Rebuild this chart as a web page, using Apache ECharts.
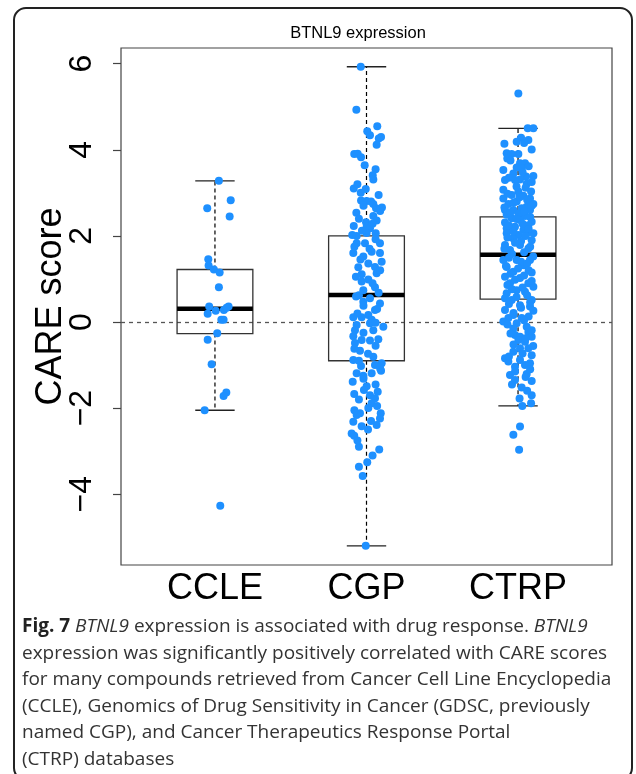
<!DOCTYPE html>
<html>
<head>
<meta charset="utf-8">
<script src="https://cdn.jsdelivr.net/npm/echarts@6/dist/echarts.min.js"></script>
<style>
  html, body { margin: 0; padding: 0; background: #fff; }
  #main { width: 636px; height: 774px; }
</style>
</head>
<body>
<div id="main"></div>
<script>
// groups and box statistics
var groups = ['CCLE', 'CGP', 'CTRP'];
var whiskerLow = [-2.05, -5.20, -1.95];
var quartile1 = [-0.27, -0.90, 0.53];
var medians = [0.31, 0.63, 1.56];
var quartile3 = [1.22, 2.00, 2.44];
var whiskerHigh = [3.28, 5.93, 4.50];
var yTicks = [-4, -2, 0, 2, 4, 6];

// points: CARE score and horizontal jitter (axis units) per group
var ccleValues = [3.28, 2.83, 2.64, 2.45, 1.46, 1.31, 1.22, 1.15, 0.81, 0.36, 0.36, 0.26, 0.28, 0.33,
  0.19, 0.05, 0.05, -0.26, -0.41, -0.98, -1.64, -1.72, -2.05, -4.27];
var ccleJitter = [0.026, 0.104, -0.051, 0.097, -0.044, -0.042, -0.007, 0.031, 0.026, -0.038, 0.09, 0.005, 0.059, 0.077,
  -0.048, 0.042, 0.057, 0.015, -0.048, -0.022, 0.075, 0.057, -0.068, 0.035];

var cgpValues = [5.93, 4.93, 4.55, 4.43, 4.34, 4.30, 4.26, 4.12, 3.90, 3.91, 3.83, 3.64, 3.41, 3.31, 3.10, 3.09,
  3.00, 2.82, 2.81, 2.80, 2.74, 2.66, 2.64, 2.54, 2.46, 2.36, 2.32, 2.23, 2.21, 2.18, 2.06, 2.02, 2.00,
  2.07, 1.83, 1.83, 1.83, 1.60, 1.63, 1.60, 1.52, 1.36, 1.40, 1.27, 1.28, 1.11, 1.13, 0.99, 0.94, 0.81,
  0.74, 0.59, 0.55, 0.47, 0.43, 0.28, 0.16, 0.11, 0.11, 0.05, -0.07, -0.03, -0.11, -0.19, -0.19, -0.33,
  -0.42, -0.43, -0.40, -0.49, -0.67, -0.81, -0.88, -0.96, -1.02, -1.00, -1.19, -1.25, -1.19, -1.13, -1.39,
  -1.49, -1.58, -1.62, -1.67, -1.70, -1.77, -1.89, -2.00, -2.16, -2.12, -2.12, -2.24, -2.32, -2.42, -2.39,
  -2.59, -2.64, -2.90, -2.96, -3.26, -3.36, -3.58, -5.20,
  3.55, 3.20, 2.95, 2.70, 2.58, 2.40, 2.28, 2.12, 1.92, 1.75, 1.70, 1.45, 1.20, 1.05, 0.90, 0.68, 0.62, 0.38,
  0.30, 0.20, -0.02, -0.25, -0.55, -0.62, -0.74, -0.90, -1.08, -1.32, -1.45, -1.80, -1.95, -2.05, -2.30,
  -2.50, -2.75, -3.10];
var cgpJitter = [-0.038, -0.067, 0.071, 0.005, 0.023, 0.096, 0.081, 0.067, -0.081, -0.058, -0.036, -0.012, 0.041, 0.045, -0.084, -0.005,
  -0.038, -0.036, 0.001, 0.030, 0.045, 0.102, 0.063, -0.067, 0.045, 0.067, -0.003, -0.084, 0.001, 0.023, 0.061, -0.094, -0.065,
  0.001, -0.065, -0.010, 0.089, -0.087, 0.034, 0.089, -0.021, 0.012, 0.100, -0.054, 0.056, -0.032, 0.067, 0.012, -0.032, 0.056,
  -0.021, -0.069, 0.023, -0.021, 0.089, 0.056, 0.012, -0.087, -0.032, 0.034, -0.065, 0.023, 0.111, -0.076, 0.045, -0.087,
  -0.032, 0.023, 0.078, -0.076, -0.043, 0.045, -0.087, 0.100, -0.036, 0.056, -0.065, -0.021, 0.034, 0.096, -0.091,
  0.001, -0.017, 0.074, -0.081, 0.023, 0.056, 0.034, 0.012, -0.065, -0.043, 0.094, 0.089, -0.087, -0.032, 0.067,
  -0.098, -0.081, -0.050, 0.084, 0.005, -0.050, -0.025, -0.005,
  0.06, -0.06, 0.08, -0.02, 0.09, -0.05, 0.04, -0.03, 0.06, -0.08, 0.02, -0.04, 0.09, -0.07, 0.04, 0.08, -0.05, -0.02,
  0.07, -0.06, 0.06, -0.02, 0.06, -0.08, 0.01, -0.05, 0.09, -0.02, 0.06, -0.05, 0.07, -0.08, 0.03,
  0.01, -0.06, 0.04];

var ctrpValues = [5.31, 4.50, 4.50, 4.28, 4.23, 4.19, 4.16, 4.14, 4.01, 3.92, 3.90, 3.90, 3.80, 3.69, 3.69, 3.59,
  3.57, 3.53, 3.45, 3.39, 3.38, 3.31, 3.30, 3.30, 3.21, 3.07, 3.03, 3.03, 2.95, 2.93, 2.87, 2.87, 2.80, 2.74,
  2.74, 2.68, 2.64, 2.60, 2.60, 2.60, 2.52, 2.49, 2.46, 2.41, 2.37, 2.33, 2.31, 2.25, 2.21, 2.18, 2.14, 2.06,
  2.02, 2.06, 2.06, 1.94, 1.90, 1.79, 1.79, 1.71, 1.67, 1.44, 1.44, 1.44, 1.28, 1.32, 1.17, 1.15, 1.05, 1.02,
  0.90, 0.90, 0.82, 0.74, 0.67, 0.70, 0.55, 0.51, 0.51, 0.39, 0.28, 0.36, 0.26, 0.16, 0.09, 0.01, 0.09, -0.03,
  -0.11, -0.15, -0.23, -0.30, -0.34, -0.34, -0.42, -0.46, -0.61, -0.61, -0.69, -0.77, -0.84, -0.88, -0.92,
  -0.96, -1.04, -1.00, -1.23, -1.21, -1.35, -1.37, -1.52, -1.70, -1.89, -1.95, -2.43, -2.62, -2.97,
  3.75, 3.62, 3.48, 3.35, 3.25, 3.15, 3.12, 2.98, 2.90, 2.84, 2.77, 2.70, 2.66, 2.57, 2.55, 2.44, 2.39, 2.28,
  2.24, 2.16, 2.10, 2.00, 1.96, 1.88, 1.84, 1.75, 1.70, 1.62, 1.58, 1.52, 1.49, 1.40, 1.36, 1.30, 1.24, 1.20,
  1.12, 1.08, 0.98, 0.95, 0.86, 0.80, 0.76, 0.62, 0.58, 0.46, 0.42, 0.33, 0.21, 0.13, 0.04, -0.06, -0.19,
  -0.27, -0.38, -0.52, -0.56, -0.73, -0.80, -1.10, -1.15, -1.28, -1.45, -1.60, -1.78];
var ctrpJitter = [0.002, 0.064, 0.101, 0.020, 0.068, -0.009, 0.040, -0.090, 0.090, -0.075, -0.042, 0.002, -0.071, 0.013, 0.046, -0.009,
  0.024, -0.097, -0.031, 0.101, 0.053, 0.013, -0.086, -0.020, 0.057, -0.097, 0.002, 0.086, -0.042, 0.035, -0.097, 0.079, -0.009, -0.064,
  0.101, 0.057, 0.024, -0.086, -0.031, 0.079, 0.002, -0.075, 0.046, -0.042, 0.013, 0.090, -0.086, 0.068, -0.020, -0.075, 0.035, 0.101,
  0.002, -0.075, 0.057, -0.031, 0.090, -0.086, 0.013, 0.068, -0.053, -0.097, -0.009, 0.079, -0.075, 0.035, -0.031, 0.090, -0.086, 0.013,
  -0.053, 0.068, 0.101, -0.009, -0.075, 0.046, -0.086, 0.090, -0.042, 0.013, -0.086, 0.079, 0.101, -0.031, -0.064, -0.097, 0.024, -0.009,
  0.057, -0.031, 0.068, -0.020, 0.013, 0.090, 0.002, 0.046, 0.068, 0.013, -0.031, 0.090, -0.086, 0.013, -0.064,
  0.079, -0.020, 0.046, -0.053, 0.057, -0.020, 0.090, 0.024, 0.090, 0.086, 0.028, 0.013, -0.031, 0.007,
  -0.05, 0.07, 0.03, -0.06, 0.09, -0.01, 0.05, -0.07, 0.01, 0.06, -0.03, 0.09, -0.09, 0.04, -0.05, 0.08, -0.01, 0.03,
  -0.06, 0.07, -0.03, 0.05, -0.07, 0.02, -0.02, 0.08, -0.09, 0.04, -0.04, 0.10, -0.06, 0.02, 0.06, -0.08, 0.00, 0.07,
  -0.05, 0.04, -0.02, 0.09, -0.07, 0.03, -0.04, 0.06, -0.01, 0.08, -0.06, 0.02, -0.03, 0.07, 0.04, -0.07, 0.09,
  -0.05, 0.05, -0.03, 0.10, 0.03, -0.06, 0.08, -0.02, 0.05, -0.04, 0.06, 0.01];

var captionLines = [
  '{b|Fig. 7} {i|BTNL9} expression is associated with drug response. {i|BTNL9}',
  'expression was significantly positively correlated with CARE scores',
  'for many compounds retrieved from Cancer Cell Line Encyclopedia',
  '(CCLE), Genomics of Drug Sensitivity in Cancer (GDSC, previously',
  'named CGP), and Cancer Therapeutics Response Portal',
  '(CTRP) databases'
];

var boxData = groups.map(function (g, i) {
  return [i + 1, whiskerLow[i], quartile1[i], medians[i], quartile3[i], whiskerHigh[i]];
});

function pointsOf(values, jitter, pos) {
  return values.map(function (v, i) { return [pos + jitter[i], v]; });
}
var points = []
  .concat(pointsOf(ccleValues, ccleJitter, 1))
  .concat(pointsOf(cgpValues, cgpJitter, 2))
  .concat(pointsOf(ctrpValues, ctrpJitter, 3));

var myChart = echarts.init(document.getElementById('main'));

var captionFont = '"Open Sans", "Noto Sans", sans-serif';
var graphics = [{
  type: 'rect',
  shape: { x: 14, y: 8, width: 618, height: 772, r: 12 },
  style: { fill: 'none', stroke: '#222', lineWidth: 2 },
  silent: true
}];
captionLines.forEach(function (line, i) {
  graphics.push({
    type: 'text',
    x: 22,
    y: 627 + i * 26.5,
    style: {
      text: line,
      fill: '#333',
      font: '19px ' + captionFont,
      verticalAlign: 'middle',
      rich: {
        b: { fontWeight: 'bold', fontSize: 19, fontFamily: captionFont, fill: '#222' },
        i: { fontStyle: 'italic', fontSize: 19, fontFamily: captionFont, fill: '#333' }
      }
    },
    silent: true
  });
});

var option = {
  animation: false,
  title: {
    text: 'BTNL9 expression',
    left: 353,
    textAlign: 'center',
    top: 20,
    textStyle: { fontFamily: 'Liberation Sans, Arial', fontSize: 16.5, fontWeight: 'normal', color: '#000' }
  },
  grid: {
    left: 121, right: 24, top: 48, bottom: 209,
    show: true, borderColor: '#444', borderWidth: 1.2, backgroundColor: 'transparent'
  },
  xAxis: {
    type: 'value',
    min: 0.38, max: 3.62,
    splitLine: { show: false },
    axisLine: { show: false },
    axisTick: { show: false },
    axisLabel: {
      customValues: [1, 2, 3],
      formatter: function (v) { return groups[Math.round(v) - 1]; },
      fontFamily: 'Liberation Sans, Arial',
      fontSize: 36,
      color: '#000',
      margin: 6
    }
  },
  yAxis: {
    type: 'value',
    min: -5.645, max: 6.365,
    name: 'CARE score',
    nameLocation: 'middle',
    nameRotate: 90,
    nameGap: 52,
    nameMoveOverlap: false,
    nameTextStyle: { fontFamily: 'Liberation Sans, Arial', fontSize: 36, color: '#000' },
    splitLine: { show: false },
    axisLine: { show: false },
    axisTick: { show: true, customValues: yTicks, length: 8, lineStyle: { color: '#444', width: 1.2 } },
    axisLabel: {
      customValues: yTicks,
      rotate: 90,
      margin: 23,
      fontFamily: 'Liberation Sans, Arial',
      fontSize: 32,
      color: '#000',
      formatter: function (v) { return String(v).replace('-', '\u2212'); }
    }
  },
  graphic: graphics,
  series: [
    {
      name: 'box',
      type: 'custom',
      z: 2,
      data: boxData,
      renderItem: function (params, api) {
        var x = api.value(0);
        var lo = api.coord([x, api.value(1)]);
        var q1 = api.coord([x, api.value(2)]);
        var md = api.coord([x, api.value(3)]);
        var q3 = api.coord([x, api.value(4)]);
        var hi = api.coord([x, api.value(5)]);
        var halfBox = api.size([0.25, 0])[0];
        var halfStaple = api.size([0.13, 0])[0];
        var cx = md[0];
        var dashed = { stroke: '#000', lineWidth: 1.2, lineDash: [4, 3] };
        var solid = { stroke: '#222', lineWidth: 1.3 };
        return {
          type: 'group',
          children: [
            { type: 'line', shape: { x1: cx, y1: q3[1], x2: cx, y2: hi[1] }, style: dashed },
            { type: 'line', shape: { x1: cx, y1: q1[1], x2: cx, y2: lo[1] }, style: dashed },
            { type: 'line', shape: { x1: cx - halfStaple, y1: hi[1], x2: cx + halfStaple, y2: hi[1] }, style: solid },
            { type: 'line', shape: { x1: cx - halfStaple, y1: lo[1], x2: cx + halfStaple, y2: lo[1] }, style: solid },
            { type: 'rect', shape: { x: cx - halfBox, y: q3[1], width: halfBox * 2, height: q1[1] - q3[1] },
              style: { fill: 'none', stroke: '#333', lineWidth: 1.3 } },
            { type: 'line', shape: { x1: cx - halfBox, y1: md[1], x2: cx + halfBox, y2: md[1] },
              style: { stroke: '#000', lineWidth: 4.5 } }
          ]
        };
      }
    },
    {
      name: 'points',
      type: 'scatter',
      z: 3,
      symbolSize: 8,
      itemStyle: { color: '#1E90FF', opacity: 1 },
      data: points,
      markLine: {
        silent: true,
        symbol: ['none', 'none'],
        label: { show: false },
        lineStyle: { color: '#555', type: [4, 4], width: 1.3 },
        data: [{ yAxis: 0 }],
        z: 1
      }
    }
  ]
};
myChart.setOption(option);
</script>
</body>
</html>
